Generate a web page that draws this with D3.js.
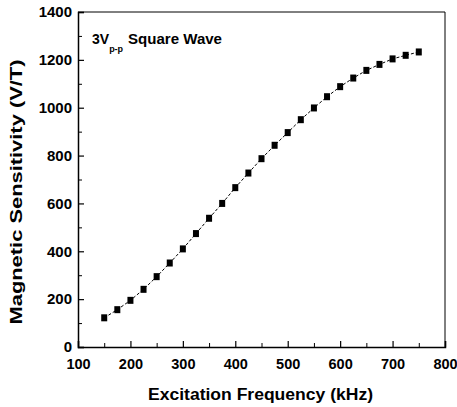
<!DOCTYPE html>
<html>
<head>
<meta charset="utf-8">
<script src="https://cdn.jsdelivr.net/npm/d3@7"></script>
<style>
  html, body { margin: 0; padding: 0; background: #fff; }
  svg { display: block; }
  text { font-family: "Liberation Sans", Arial, sans-serif; font-weight: bold; fill: #000; }
</style>
</head>
<body>
<svg id="chart" width="457" height="407"></svg>
<script>
// ---- data ----
const frequencies = [150,175,200,225,250,275,300,325,350,375,400,425,450,475,500,525,550,575,600,625,650,675,700,725,750];
const sensitivity = [122,156,195,241,294,351,410,474,538,600,666,727,787,843,896,950,999,1046,1088,1124,1156,1181,1204,1219,1233];
const xTicks = [100,200,300,400,500,600,700,800];
const xMinorTicks = [150,250,350,450,550,650,750];
const yTicks = [0,200,400,600,800,1000,1200,1400];
const yMinorTicks = [100,300,500,700,900,1100,1300];
const xLabel = "Excitation Frequency (kHz)";
const yLabel = "Magnetic Sensitivity (V/T)";

// ---- layout ----
const svg = d3.select("#chart");
const L = 78, R = 445, T = 12, B = 347;
const x = d3.scaleLinear().domain([100, 800]).range([L, R]);
const y = d3.scaleLinear().domain([0, 1400]).range([B, T]);

// frame (top & right)
svg.append("path")
  .attr("d", `M${L},${T}H${R}V${B}`)
  .attr("fill", "none").attr("stroke", "#000").attr("stroke-width", 1);

// x axis
const xAxis = svg.append("g").attr("transform", `translate(0,${B})`)
  .call(d3.axisBottom(x).tickValues(xTicks).tickSize(-6).tickFormat(d3.format("d")));
xAxis.select(".domain").attr("stroke-width", 1.5);
xAxis.selectAll(".tick line").attr("stroke-width", 1.2);
xAxis.selectAll(".tick text").attr("y", 12).attr("dy", "0.71em")
  .style("font-size", "14.5px").style("font-family", "Liberation Sans, Arial, sans-serif").style("font-weight", "bold");
svg.append("g").attr("transform", `translate(0,${B})`)
  .call(d3.axisBottom(x).tickValues(xMinorTicks).tickSize(-4).tickFormat(""))
  .call(g => g.select(".domain").remove());

// y axis
const yAxis = svg.append("g").attr("transform", `translate(${L},0)`)
  .call(d3.axisLeft(y).tickValues(yTicks).tickSize(-6).tickFormat(d3.format("d")));
yAxis.select(".domain").attr("stroke-width", 1.5);
yAxis.selectAll(".tick line").attr("stroke-width", 1.2);
yAxis.selectAll(".tick text").attr("x", -6)
  .style("font-size", "15px").style("font-family", "Liberation Sans, Arial, sans-serif").style("font-weight", "bold");
svg.append("g").attr("transform", `translate(${L},0)`)
  .call(d3.axisLeft(y).tickValues(yMinorTicks).tickSize(-4).tickFormat(""))
  .call(g => g.select(".domain").remove());

// dashed line
const pts = frequencies.map((f, i) => [f, sensitivity[i]]);
svg.append("path")
  .datum(pts)
  .attr("d", d3.line().x(d => x(d[0])).y(d => y(d[1])))
  .attr("fill", "none").attr("stroke", "#000").attr("stroke-width", 1)
  .attr("stroke-dasharray", "3,2");

// square markers
svg.append("g").selectAll("rect").data(pts).enter().append("rect")
  .attr("x", d => x(d[0]) - 3)
  .attr("y", d => y(d[1]) - 3.5)
  .attr("width", 6).attr("height", 7)
  .attr("fill", "#000");

// axis titles
svg.append("text")
  .attr("x", 260.5).attr("y", 400)
  .attr("text-anchor", "middle")
  .style("font-size", "16px")
  .attr("textLength", 225).attr("lengthAdjust", "spacingAndGlyphs")
  .text(xLabel);
svg.append("text")
  .attr("transform", "translate(22,192) rotate(-90)")
  .attr("text-anchor", "middle")
  .style("font-size", "16px")
  .attr("textLength", 265).attr("lengthAdjust", "spacingAndGlyphs")
  .text(yLabel);

// annotation
const ann = svg.append("text").attr("x", 92).attr("y", 44).style("font-size", "14px");
ann.append("tspan").text("3V");
ann.append("tspan").attr("dy", 8).style("font-size", "9px").text("p-p");
ann.append("tspan").attr("dy", -8).attr("x", 128).attr("textLength", 94).attr("lengthAdjust", "spacingAndGlyphs").text("Square Wave");
</script>
</body>
</html>
